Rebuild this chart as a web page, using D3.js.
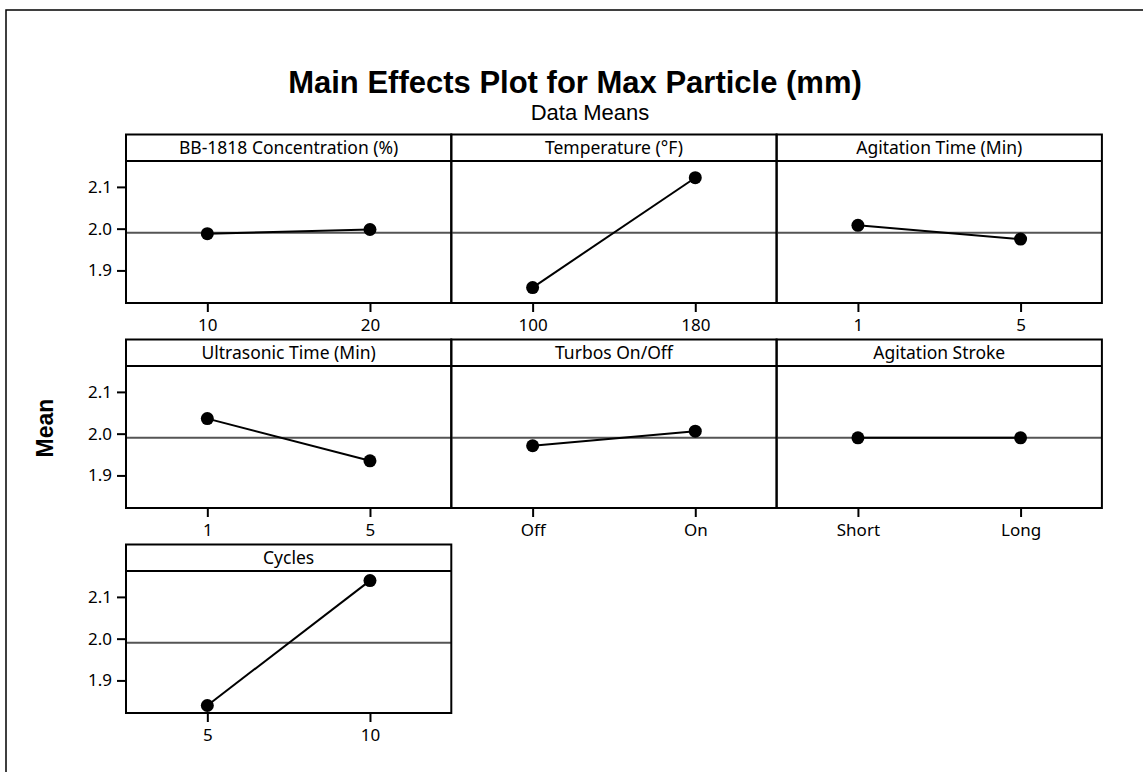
<!DOCTYPE html>
<html>
<head>
<meta charset="utf-8">
<script src="https://cdn.jsdelivr.net/npm/d3@7"></script>
<style>
  body { margin: 0; background: #fff; }
  svg { display: block; }
</style>
</head>
<body>
<svg id="chart"></svg>
<script>
const width = 1143;
const height = 772;

// factors, their levels and the level means
const factors = ['BB-1818 Concentration (%)', 'Temperature (°F)', 'Agitation Time (Min)',
                 'Ultrasonic Time (Min)', 'Turbos On/Off', 'Agitation Stroke', 'Cycles'];
const levels = [['10', '20'], ['100', '180'], ['1', '5'], ['1', '5'], ['Off', 'On'], ['Short', 'Long'], ['5', '10']];
const means = [[1.988, 1.998], [1.859, 2.122], [2.008, 1.975], [2.036, 1.935], [1.971, 2.006], [1.990, 1.990], [1.840, 2.139]];
const grandMean = 1.99;
const yTicks = [1.9, 2.0, 2.1];
const yDomain = [1.822, 2.162];

const left = 126;
const colW = 325.3;
const top0 = 134.5;
const rowStep = 205;
const headH = 26.5;
const plotH = 142;
const font = "'Noto Sans', sans-serif";
const boldFont = "'Liberation Sans', Arial, sans-serif";

const svg = d3.select('#chart').attr('width', width).attr('height', height);

// outer frame, runs past the right and bottom edges
svg.append('rect')
    .attr('x', 6).attr('y', 10)
    .attr('width', 1160).attr('height', 800)
    .attr('fill', 'none').attr('stroke', '#000').attr('stroke-width', 1.5);

svg.append('text')
    .attr('x', 575).attr('y', 93)
    .attr('text-anchor', 'middle')
    .style('font-family', boldFont)
    .style('font-weight', 'bold').style('font-size', '31px')
    .text('Main Effects Plot for Max Particle (mm)');

svg.append('text')
    .attr('x', 590).attr('y', 120)
    .attr('text-anchor', 'middle')
    .style('font-family', boldFont).style('font-size', '22px')
    .text('Data Means');

svg.append('text')
    .attr('transform', `translate(53, 428) rotate(-90)`)
    .attr('text-anchor', 'middle')
    .style('font-family', boldFont)
    .style('font-weight', 'bold').style('font-size', '23px')
    .text('Mean');

const y = d3.scaleLinear().domain(yDomain).range([plotH, 0]);

factors.forEach((name, i) => {
    const col = i % 3;
    const row = Math.floor(i / 3);
    const gx = left + col * colW;
    const gy = top0 + row * rowStep;

    const g = svg.append('g').attr('transform', `translate(${gx}, ${gy})`);
    const p = g.append('g').attr('transform', `translate(0, ${headH})`);

    const x = d3.scalePoint().domain(levels[i]).range([0, colW]).padding(0.5);

    // header strip
    g.append('text')
        .attr('x', colW / 2).attr('y', headH / 2 + 6.5)
        .attr('text-anchor', 'middle')
        .style('font-family', font).style('font-size', '17.5px')
        .text(name);

    // grand mean reference
    p.append('line')
        .attr('x1', 0).attr('x2', colW)
        .attr('y1', y(grandMean)).attr('y2', y(grandMean))
        .attr('stroke', '#555').attr('stroke-width', 2);

    const xAxis = p.append('g').attr('transform', `translate(0, ${plotH})`)
        .call(d3.axisBottom(x).tickSize(9).tickPadding(7));
    xAxis.select('.domain').remove();
    xAxis.selectAll('line').attr('stroke-width', 2);
    xAxis.selectAll('text').style('font-family', font).style('font-size', '17px').attr('fill', '#000');

    if (col === 0) {
        const yAxis = p.append('g')
            .call(d3.axisLeft(y).tickValues(yTicks).tickFormat(d3.format('.1f')).tickSize(9).tickPadding(5));
        yAxis.select('.domain').remove();
        yAxis.selectAll('line').attr('stroke-width', 2);
        yAxis.selectAll('text').style('font-family', font).style('font-size', '17px').attr('fill', '#000');
    }

    const pts = levels[i].map((l, k) => ({ level: l, mean: means[i][k] }));

    p.append('path')
        .datum(pts)
        .attr('fill', 'none').attr('stroke', '#000').attr('stroke-width', 2)
        .attr('d', d3.line().x(d => x(d.level)).y(d => y(d.mean)));

    p.selectAll('circle').data(pts).enter().append('circle')
        .attr('cx', d => x(d.level))
        .attr('cy', d => y(d.mean))
        .attr('r', 6.5)
        .attr('fill', '#000');

    // panel borders
    g.append('rect')
        .attr('width', colW).attr('height', headH + plotH)
        .attr('fill', 'none').attr('stroke', '#000').attr('stroke-width', 2);
    g.append('line')
        .attr('x1', 0).attr('x2', colW)
        .attr('y1', headH).attr('y2', headH)
        .attr('stroke', '#000').attr('stroke-width', 2);
});
</script>
</body>
</html>
